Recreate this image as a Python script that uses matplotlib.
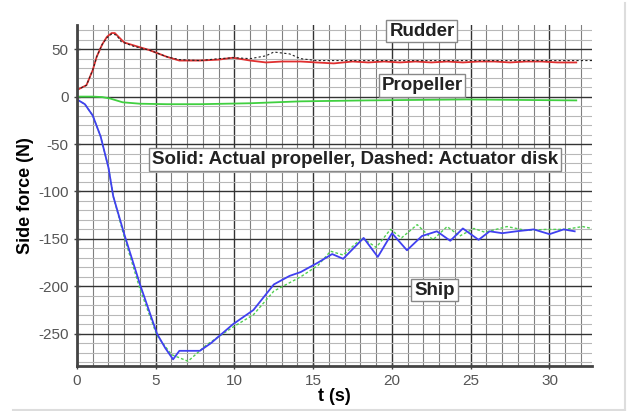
import numpy as np
import matplotlib
matplotlib.use('Agg')
import matplotlib.pyplot as plt
from matplotlib.lines import Line2D

plt.rcParams['font.family'] = ['Liberation Sans', 'DejaVu Sans']
plt.rcParams['axes.unicode_minus'] = False

# ---- data ----
# rudder, actual propeller (red solid)
rud_t = [0, 0.6, 1.0, 1.25, 1.6, 1.9, 2.2, 2.4, 2.7, 3.0, 3.6, 4.6, 5.7, 6.5, 7.8, 9.0, 9.9, 11, 12, 13,
         14.2, 15.2, 16.3, 17.5, 18.5, 19.5, 20.5, 21.5, 22.5, 23.5, 24.5, 25.5, 26.5,
         27.5, 28.5, 29.5, 30.5, 31.7]
rud_f = [7, 12, 28, 42, 55, 63, 67, 67, 62, 57, 54, 49, 42, 38, 38, 39, 41, 38, 36, 37,
         37, 36, 35, 37, 36, 37, 36, 37, 36, 37, 36, 37, 37,
         36, 37, 37, 36, 36]
# rudder, actuator disk (black dashed)
rud_ad_t = [0, 0.6, 1.0, 1.25, 1.6, 1.9, 2.2, 2.5, 2.8, 3.6, 4.6, 5.7, 6.5, 7.8, 9.0, 10, 11, 12,
            12.5, 13.5, 14.2, 15.2, 16.5, 18, 19.5, 21, 22.5, 24, 25.5, 27, 28.5, 30, 31.5, 32.7]
rud_ad_f = [7, 12, 28, 42, 55, 62, 66, 65, 58, 53, 49, 42, 39, 38, 40, 41, 40, 43,
            47, 45, 40, 38, 38, 38, 38, 38, 38, 38, 38, 38, 38, 38, 38, 38]

# propeller (green solid)
prop_t = [0, 1.0, 1.6, 2.1, 2.9, 4.0, 5.7, 7.8, 11, 14.2, 18.4, 24.7, 28, 31.7]
prop_f = [0, 0, -0.5, -2, -6, -7.5, -8, -8, -7, -5, -4, -3, -3.5, -4]

# ship, actual propeller (blue solid)
ship_t = [0, 0.5, 1.0, 1.5, 2.0, 2.3, 3.0, 4.0, 5.08, 5.6, 6.1, 6.5, 7.0, 7.8, 8.5, 9.9,
          11.2, 12.5, 13.5, 14.2, 15.3, 16.2, 16.9, 18.2, 19.1, 20.0, 20.95, 21.9, 22.85,
          23.7, 24.5, 25.5, 26.2, 27.0, 27.9, 29.0, 30.0, 30.9, 31.6]
ship_f = [-3, -8, -20, -42, -75, -105, -145, -198, -250, -265, -277, -268, -268, -268, -260, -240,
          -225, -198, -189, -185, -175, -166, -171, -149, -169, -144, -162, -147, -142,
          -152, -139, -151, -142, -144, -142, -140, -145, -140, -142]
# ship, actuator disk (green dashed)
ship_ad_t = [0, 0.5, 1.0, 1.5, 2.0, 2.3, 3.0, 4.0, 5.08, 6.0, 7.05, 8.2, 9.9, 11.2, 12.5,
             13.3, 14.2, 15.3, 16.1, 16.9, 18.1, 19.0, 19.9, 20.6, 21.6, 22.6, 23.5, 24.3,
             25.2, 25.9, 27.3, 28.5, 29.8, 31.0, 32.1, 32.7]
ship_ad_f = [-3, -8, -20, -42, -75, -105, -148, -203, -252, -272, -279, -262, -243, -230, -205,
             -198, -190, -178, -163, -167, -149, -159, -140, -149, -135, -151, -137, -147,
             -139, -143, -137, -141, -140, -140, -137, -139]

labels = ['Rudder', 'Propeller', 'Solid: Actual propeller, Dashed: Actuator disk', 'Ship']
label_pos = [(21.9, 69), (21.9, 12), (17.65, -66), (22.7, -204)]

fig = plt.figure(figsize=(6.27, 4.11), dpi=100)
ax = fig.add_axes([0.1228, 0.1095, 0.8214, 0.8297])

ax.set_xlim(0, 32.7)
ax.set_ylim(-284, 75.5)
ax.set_xticks(np.arange(0, 31, 5))
ax.set_yticks(np.arange(-250, 51, 50))
ax.set_xticks(np.arange(0, 33, 1), minor=True)
ax.set_yticks(np.arange(-280, 75, 10), minor=True)
ax.grid(which='major', color='#333333', lw=1.0)
ax.grid(which='minor', axis='x', color='#808080', lw=0.8)
ax.grid(which='minor', axis='y', color='#b8b8b8', lw=0.8)
ax.set_axisbelow(True)

for s in ['top', 'right']:
    ax.spines[s].set_visible(False)
for s in ['left', 'bottom']:
    ax.spines[s].set_color('#444444')
    ax.spines[s].set_linewidth(2)
ax.tick_params(which='major', direction='inout', length=5, width=1, colors='#444444',
               labelsize=11, labelcolor='#555555')
ax.tick_params(which='minor', length=0)

ax.plot(rud_t, rud_f, color='#e03030', lw=1.3)
ax.plot(rud_ad_t, rud_ad_f, color='#222222', lw=0.8, ls=(0, (2, 2)))
ax.plot(prop_t, prop_f, color='#40d040', lw=1.3)
ax.plot(ship_ad_t, ship_ad_f, color='#50d050', lw=1.0, ls=(0, (2, 1.5)))
ax.plot(ship_t, ship_f, color='#4040f0', lw=1.3)

for txt, (x, y) in zip(labels, label_pos):
    ax.text(x, y, txt, ha='center', va='center', fontsize=13.5, fontweight='bold',
            color='#222222',
            bbox=dict(boxstyle='square,pad=0.15', fc='white', ec='#888888', lw=1))

ax.set_xlabel('t (s)', fontsize=13, fontweight='bold', labelpad=0)
ax.set_ylabel('Side force (N)', fontsize=13, fontweight='bold', labelpad=3)

# thin frame lines at the picture edges
fig.add_artist(Line2D([0.997, 0.997], [0.0, 0.993], transform=fig.transFigure,
                      color='#dddddd', lw=1.5))
fig.add_artist(Line2D([0.02, 0.997], [0.002, 0.002], transform=fig.transFigure,
                      color='#dddddd', lw=1.5))

fig.savefig('out.png', dpi=100)
